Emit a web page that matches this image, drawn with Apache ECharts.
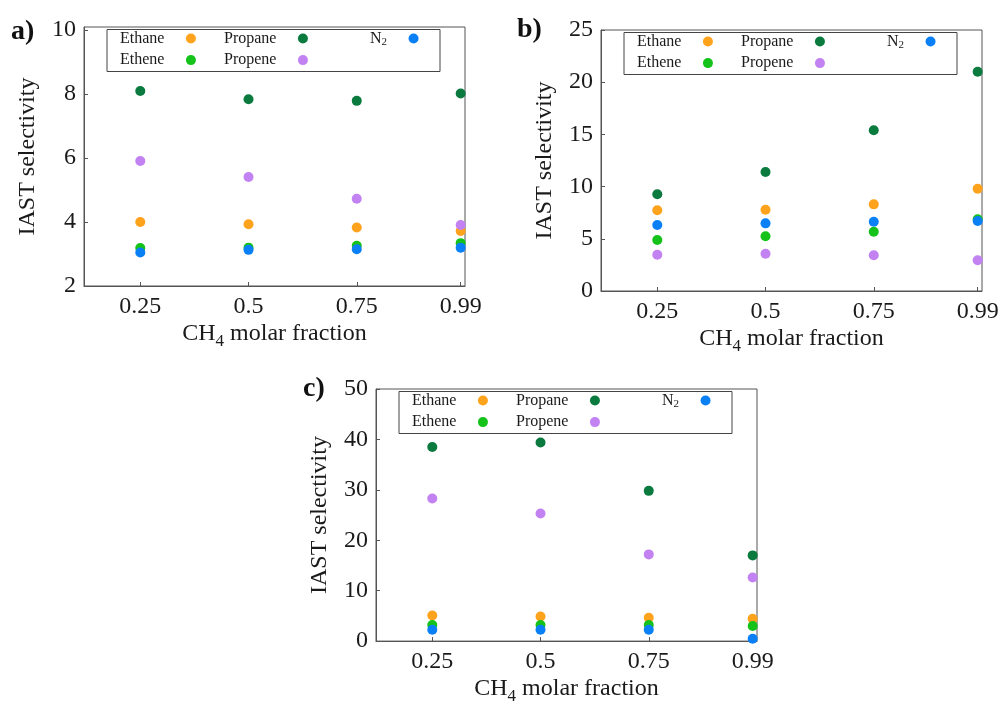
<!DOCTYPE html>
<html>
<head>
<meta charset="utf-8">
<script src="https://cdn.jsdelivr.net/npm/echarts@6/dist/echarts.min.js"></script>
<style>
html,body{margin:0;padding:0;background:#fff;}
#main{width:1003px;height:706px;}
</style>
</head>
<body>
<div id="main"></div>
<script>
// ---- data ----
const xFractions = [0.25, 0.5, 0.75, 0.99];
const xTickLabels = [0.25, 0.5, 0.75, 0.99];
const species = ['Ethane', 'Ethene', 'Propane', 'Propene', 'N2'];

// panel a
const aEthane  = [4.00, 3.93, 3.83, 3.72];
const aEthene  = [3.19, 3.20, 3.26, 3.34];
const aPropane = [8.10, 7.84, 7.79, 8.02];
const aPropene = [5.91, 5.41, 4.73, 3.91];
const aN2      = [3.05, 3.13, 3.15, 3.20];
const aYTicks  = [2, 4, 6, 8, 10];

// panel b
const bEthane  = [7.73, 7.79, 8.30, 9.80];
const bEthene  = [4.89, 5.24, 5.68, 6.87];
const bPropane = [9.26, 11.4, 15.4, 21.0];
const bPropene = [3.48, 3.57, 3.42, 2.94];
const bN2      = [6.32, 6.48, 6.64, 6.70];
const bYTicks  = [0, 5, 10, 15, 20, 25];

// panel c
const cEthane  = [5.08, 4.88, 4.63, 4.43];
const cEthene  = [3.20, 3.20, 3.20, 3.00];
const cPropane = [38.5, 39.4, 29.8, 17.0];
const cPropene = [28.3, 25.3, 17.2, 12.6];
const cN2      = [2.24, 2.24, 2.24, 0.45];
const cYTicks  = [0, 10, 20, 30, 40, 50];

const panelLabels = ['a)', 'b)', 'c)'];
const xAxisTitle = 'CH{sub|4} molar fraction';
const yAxisTitle = 'IAST selectivity';

// ---- styles ----
const colors = {
  Ethane: '#ffa21c',
  Ethene: '#14c21a',
  Propane: '#0a7a3e',
  Propene: '#c282f2',
  N2: '#0a80f6'
};
const FONT = 'Liberation Serif';
const frameColor = '#555';
const textColor = '#1a1a1a';

const panels = [
  { values: [aEthane, aEthene, aPropane, aPropene, aN2], yTicks: aYTicks, yMin: 2, yMax: 10.1,
    grid: { left: 84, top: 27, width: 381, height: 259 }, label: { left: 11, top: 18 } },
  { values: [bEthane, bEthene, bPropane, bPropene, bN2], yTicks: bYTicks, yMin: 0, yMax: 25,
    grid: { left: 601, top: 30, width: 381, height: 261 }, label: { left: 517, top: 16 } },
  { values: [cEthane, cEthene, cPropane, cPropene, cN2], yTicks: cYTicks, yMin: 0, yMax: 50,
    grid: { left: 376, top: 389, width: 381, height: 259 }, label: { left: 303, top: 375 } }
];

const option = {
  backgroundColor: '#fff',
  animation: false,
  title: [],
  grid: [],
  xAxis: [],
  yAxis: [],
  legend: [],
  series: [],
  graphic: []
};

panels.forEach((p, pi) => {
  option.title.push({
    text: panelLabels[pi], left: p.label.left, top: p.label.top, padding: 0,
    textStyle: { fontFamily: FONT, fontWeight: 'bold', fontSize: 28, color: '#111' }
  });
  option.grid.push(Object.assign({ show: true, borderColor: frameColor, borderWidth: 1, containLabel: false }, p.grid));
  option.xAxis.push({
    type: 'value', gridIndex: pi, min: 0.12, max: 1.0,
    axisLine: { show: true, lineStyle: { color: frameColor, width: 1 } },
    axisTick: { show: true, inside: true, length: 4, lineStyle: { color: frameColor }, customValues: xTickLabels },
    axisLabel: { customValues: xTickLabels, fontFamily: FONT, fontSize: 24, color: textColor, margin: 9,
      formatter: v => String(v) },
    splitLine: { show: false },
    name: xAxisTitle, nameLocation: 'middle', nameGap: 33,
    nameTextStyle: { fontFamily: FONT, fontSize: 24, color: textColor, lineHeight: 28,
      rich: { sub: { fontFamily: FONT, fontSize: 17, color: textColor, verticalAlign: 'bottom', lineHeight: 20, padding: [0, 0, -2, 0] } } }
  });
  option.yAxis.push({
    type: 'value', gridIndex: pi, min: p.yMin, max: p.yMax,
    axisLine: { show: true, lineStyle: { color: frameColor, width: 1 } },
    axisTick: { show: true, inside: true, length: 4, lineStyle: { color: frameColor }, customValues: p.yTicks },
    axisLabel: { customValues: p.yTicks, fontFamily: FONT, fontSize: 24, color: textColor, margin: 8 },
    splitLine: { show: false },
    name: yAxisTitle, nameLocation: 'middle', nameGap: 44,
    nameTextStyle: { fontFamily: FONT, fontSize: 24, color: textColor }
  });
  species.forEach((s, si) => {
    option.series.push({
      type: 'scatter', name: s, xAxisIndex: pi, yAxisIndex: pi,
      symbol: 'circle', symbolSize: 10,
      itemStyle: { color: colors[s], opacity: 1 },
      emphasis: { disabled: true },
      z: 2 + si,
      data: xFractions.map((x, i) => [x, p.values[si][i]])
    });
  });
  // legend box
  const bx = p.grid.left + 23, by = p.grid.top + 2.5;
  option.graphic.push({
    type: 'rect', silent: true, z: 1,
    shape: { x: bx, y: by, width: 333, height: 42 },
    style: { fill: '#fff', stroke: '#444', lineWidth: 1 }
  });
  const cols = [
    { dx: 13, items: ['Ethane', 'Ethene'] },
    { dx: 117, items: ['Propane', 'Propene'] },
    { dx: 263, items: ['N2'] }
  ];
  cols.forEach(c => {
    option.legend.push({
      orient: 'vertical', left: bx + c.dx, top: by + 1, padding: 0,
      itemGap: 5.6, itemWidth: 43, itemHeight: 10, align: 'right',
      selectedMode: false, icon: 'circle', z: 10,
      data: c.items,
      formatter: n => n === 'N2' ? 'N{sub|2}' : n,
      textStyle: { fontFamily: FONT, fontSize: 16, color: textColor, padding: 0,
        rich: { sub: { fontFamily: FONT, fontSize: 11, color: textColor, padding: [8, 0, 0, 0] } } }
    });
  });
});

const chart = echarts.init(document.getElementById('main'), null, { renderer: 'canvas' });
chart.setOption(option);
</script>
</body>
</html>
